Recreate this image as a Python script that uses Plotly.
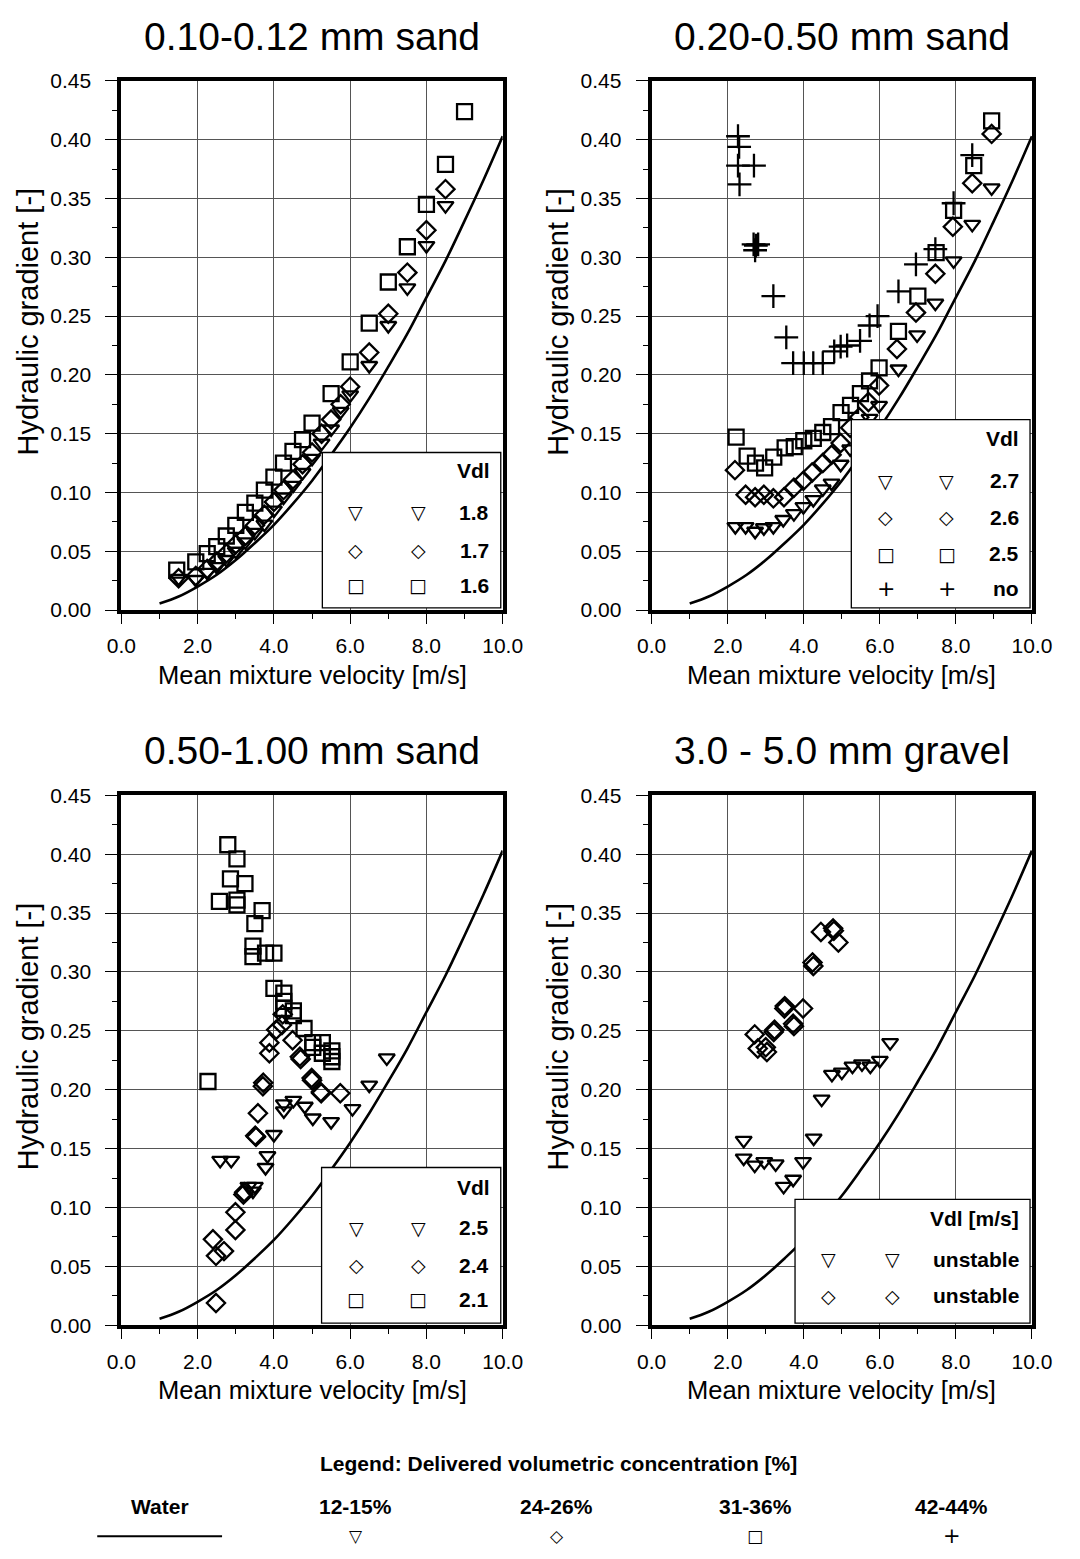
import plotly.graph_objects as go

# ---------------- data ----------------
water_v = [1.0, 1.5, 2.0, 2.5, 3.0, 3.5, 4.0, 4.5, 5.0, 5.5, 6.0, 6.5, 7.0, 7.5, 8.0, 8.5, 9.0, 9.5, 10.0]
water_i = [0.0055, 0.0115, 0.020, 0.030, 0.0425, 0.057, 0.0725, 0.0905, 0.110, 0.132, 0.155, 0.180,
           0.207, 0.235, 0.266, 0.297, 0.331, 0.366, 0.403]

# Panel 1: 0.10-0.12 mm sand
p1_tri_v = [1.50, 1.95, 2.25, 2.50, 2.75, 3.00, 3.25, 3.50, 3.75, 4.00, 4.25, 4.50, 4.75, 5.00, 5.25, 5.50,
            5.75, 6.00, 6.50, 7.00, 7.50, 8.00, 8.50]
p1_tri_i = [0.027, 0.026, 0.032, 0.037, 0.043, 0.050, 0.058, 0.066, 0.073, 0.085, 0.096, 0.106, 0.117, 0.129,
            0.142, 0.154, 0.169, 0.183, 0.208, 0.242, 0.274, 0.310, 0.344]
p1_dia_v = [1.50, 1.95, 2.25, 2.50, 2.75, 3.00, 3.25, 3.50, 3.75, 4.00, 4.25, 4.50, 4.75, 5.00, 5.25, 5.50,
            5.75, 6.00, 6.50, 7.00, 7.50, 8.00, 8.50]
p1_dia_i = [0.027, 0.029, 0.035, 0.041, 0.048, 0.056, 0.063, 0.072, 0.081, 0.092, 0.102, 0.111, 0.124, 0.134,
            0.150, 0.162, 0.175, 0.190, 0.219, 0.252, 0.287, 0.323, 0.358]
p1_sq_v = [1.45, 1.95, 2.25, 2.50, 2.75, 3.00, 3.25, 3.50, 3.75, 4.00, 4.25, 4.50, 4.75, 5.00, 5.50, 6.00,
           6.50, 7.00, 7.50, 8.00, 8.50, 9.00]
p1_sq_i = [0.034, 0.041, 0.048, 0.054, 0.063, 0.072, 0.083, 0.091, 0.102, 0.113, 0.125, 0.135, 0.145, 0.159,
           0.184, 0.211, 0.244, 0.279, 0.309, 0.345, 0.379, 0.424]

# Panel 2: 0.20-0.50 mm sand
p2_tri_v = [2.20, 2.47, 2.72, 2.95, 3.20, 3.46, 3.74, 3.99, 4.25, 4.50, 4.73, 4.97, 5.22, 5.48, 5.73, 5.98,
            6.49, 6.98, 7.46, 7.94, 8.43, 8.94]
p2_tri_i = [0.071, 0.071, 0.067, 0.070, 0.071, 0.077, 0.082, 0.088, 0.094, 0.103, 0.108, 0.124, 0.137, 0.150,
            0.163, 0.174, 0.205, 0.234, 0.261, 0.297, 0.328, 0.359]
p2_dia_v = [2.19, 2.47, 2.72, 2.95, 3.20, 3.48, 3.74, 3.99, 4.22, 4.50, 4.73, 4.97, 5.22, 5.46, 5.70, 5.98,
            6.45, 6.95, 7.46, 7.92, 8.43, 8.94]
p2_dia_i = [0.119, 0.098, 0.096, 0.098, 0.095, 0.096, 0.104, 0.110, 0.117, 0.125, 0.132, 0.142, 0.155, 0.164,
            0.177, 0.191, 0.222, 0.253, 0.286, 0.326, 0.363, 0.405]
p2_sq_v = [2.22, 2.51, 2.73, 2.97, 3.21, 3.51, 3.75, 4.00, 4.25, 4.50, 4.73, 4.98, 5.23, 5.49, 5.73, 5.98,
           6.49, 7.00, 7.48, 7.94, 8.47, 8.94]
p2_sq_i = [0.147, 0.131, 0.125, 0.121, 0.130, 0.138, 0.139, 0.144, 0.146, 0.151, 0.156, 0.168, 0.174, 0.184,
           0.195, 0.206, 0.237, 0.267, 0.304, 0.340, 0.378, 0.416]
p2_plus_v = [2.27, 2.30, 2.27, 2.69, 2.31, 2.68, 2.74, 2.80, 2.72, 3.20, 3.54, 3.72, 4.00, 4.25, 4.50, 4.80,
             4.97, 5.14, 5.48, 5.73, 5.94, 6.49, 6.95, 7.46, 7.94, 8.43]
p2_plus_i = [0.403, 0.394, 0.378, 0.378, 0.362, 0.311, 0.310, 0.311, 0.306, 0.267, 0.232, 0.210, 0.210, 0.210,
             0.210, 0.220, 0.224, 0.225, 0.229, 0.242, 0.250, 0.271, 0.294, 0.307, 0.346, 0.387]

# Panel 3: 0.50-1.00 mm sand
p3_tri_v = [2.59, 2.88, 3.33, 3.45, 3.50, 3.78, 3.83, 4.00, 4.26, 4.26, 4.51, 4.81, 5.02, 5.50, 6.06, 6.50, 6.96]
p3_tri_i = [0.140, 0.140, 0.118, 0.114, 0.118, 0.134, 0.144, 0.162, 0.182, 0.188, 0.191, 0.186, 0.176, 0.173,
            0.184, 0.204, 0.227]
p3_dia_v = [2.48, 2.40, 2.48, 2.69, 2.99, 2.99, 3.20, 3.22, 3.51, 3.53, 3.58, 3.71, 3.72, 3.88, 3.88, 4.06,
            4.21, 4.23, 4.49, 4.68, 4.70, 4.99, 5.00, 5.23, 5.24, 5.74]
p3_dia_i = [0.019, 0.073, 0.059, 0.063, 0.081, 0.096, 0.111, 0.113, 0.161, 0.160, 0.180, 0.203, 0.206, 0.231,
            0.240, 0.251, 0.255, 0.264, 0.242, 0.228, 0.226, 0.210, 0.208, 0.198, 0.197, 0.197]
p3_sq_v = [2.27, 2.57, 2.79, 2.86, 3.03, 3.03, 3.03, 3.24, 3.45, 3.45, 3.50, 3.69, 3.78, 4.00, 4.00, 4.26,
           4.26, 4.26, 4.51, 4.51, 4.79, 5.02, 5.02, 5.27, 5.27, 5.52, 5.52, 5.52]
p3_sq_i = [0.207, 0.360, 0.408, 0.379, 0.396, 0.361, 0.357, 0.375, 0.322, 0.313, 0.341, 0.352, 0.316, 0.316,
           0.286, 0.282, 0.275, 0.269, 0.267, 0.263, 0.252, 0.240, 0.236, 0.240, 0.231, 0.233, 0.228, 0.224]

# Panel 4: 3.0 - 5.0 mm gravel
p4_tri_v = [2.42, 2.42, 2.71, 2.96, 3.26, 3.47, 3.72, 3.98, 4.26, 4.47, 4.74, 5.00, 5.28, 5.53, 5.75, 6.00, 6.27]
p4_tri_i = [0.157, 0.142, 0.136, 0.139, 0.137, 0.118, 0.124, 0.139, 0.159, 0.192, 0.213, 0.215, 0.220, 0.222,
            0.220, 0.225, 0.240]
p4_dia_v = [2.71, 2.79, 3.00, 3.03, 3.21, 3.23, 3.49, 3.50, 3.72, 3.74, 3.98, 4.23, 4.25, 4.45, 4.77, 4.79, 4.91]
p4_dia_i = [0.247, 0.235, 0.236, 0.232, 0.249, 0.251, 0.269, 0.271, 0.256, 0.254, 0.269, 0.308, 0.305, 0.334,
            0.337, 0.335, 0.325]

panel_titles = ["0.10-0.12 mm sand", "0.20-0.50 mm sand", "0.50-1.00 mm sand", "3.0 - 5.0 mm gravel"]
legend_rows = [
    [("▽", "1.8"), ("◇", "1.7"), ("□", "1.6")],
    [("▽", "2.7"), ("◇", "2.6"), ("□", "2.5"), ("+", "no")],
    [("▽", "2.5"), ("◇", "2.4"), ("□", "2.1")],
    [("▽", "unstable"), ("◇", "unstable")],
]
legend_headers = ["Vdl", "Vdl", "Vdl", "Vdl [m/s]"]
conc_labels = ["Water", "12-15%", "24-26%", "31-36%", "42-44%"]
conc_symbols = ["", "▽", "◇", "□", "+"]

# ---------------- figure ----------------
W, H = 1080, 1559
FONT = "Liberation Sans, Arial, sans-serif"
fig = go.Figure()

xdom = [(110 / W, 504 / W), (658 / W, 1051 / W)]
ydom = [(1 - 607 / H, 1 - 70 / H), (1 - 1333 / H, 1 - 795 / H)]
panels = [(0, 0), (1, 0), (0, 1), (1, 1)]

LW = 2.3
sym_style = {
    "tri": dict(symbol="triangle-down-open", size=14, line=dict(width=LW, color="black"), color="black"),
    "dia": dict(symbol="diamond-open", size=14, line=dict(width=LW, color="black"), color="black"),
    "sq": dict(symbol="square-open", size=15, line=dict(width=LW, color="black"), color="black"),
    "plus": dict(symbol="cross-thin-open", size=17, line=dict(width=LW, color="black"), color="black"),
}

series = [
    [("tri", p1_tri_v, p1_tri_i), ("dia", p1_dia_v, p1_dia_i), ("sq", p1_sq_v, p1_sq_i)],
    [("tri", p2_tri_v, p2_tri_i), ("dia", p2_dia_v, p2_dia_i), ("sq", p2_sq_v, p2_sq_i),
     ("plus", p2_plus_v, p2_plus_i)],
    [("tri", p3_tri_v, p3_tri_i), ("dia", p3_dia_v, p3_dia_i), ("sq", p3_sq_v, p3_sq_i)],
    [("tri", p4_tri_v, p4_tri_i), ("dia", p4_dia_v, p4_dia_i)],
]

legend_box_left = [0.527, 0.525, 0.525, 0.377]
legend_box_top = [0.134, 0.162, 0.134, 0.107]
legend_header_y = [0.119, 0.146, 0.117, 0.091]
legend_row_y = [[0.083, 0.051, 0.021], [0.110, 0.079, 0.048, 0.018], [0.083, 0.051, 0.022], [0.056, 0.025]]
legend_sym_x = [(0.615, 0.778), (0.615, 0.776), (0.616, 0.778), (0.466, 0.632)]

annotations = []
shapes = []
for k, (cx, ry) in enumerate(panels):
    n = "" if k == 0 else str(k + 1)
    xa, ya = "x" + n, "y" + n
    fig.add_trace(go.Scatter(x=water_v, y=water_i, mode="lines", line=dict(color="black", width=2.6, shape="spline"),
                             xaxis=xa, yaxis=ya, showlegend=False))
    for key, vv, ii in series[k]:
        fig.add_trace(go.Scatter(x=vv, y=ii, mode="markers", marker=sym_style[key], xaxis=xa, yaxis=ya,
                                 showlegend=False))
    axcommon = dict(showline=True, mirror=True, linewidth=4, linecolor="black", showgrid=True,
                    gridcolor="#555555", gridwidth=1, ticks="outside", tickwidth=1,
                    tickcolor="black", zeroline=False, tickfont=dict(family=FONT, size=21, color="black"))
    fig.update_layout(**{
        "xaxis" + n: dict(axcommon, domain=xdom[cx], range=[0, 10], dtick=2, tick0=0, tickformat=".1f",
                          ticklen=10, ticklabelstandoff=4,
                          anchor=ya, minor=dict(dtick=1, ticks="outside", ticklen=5, showgrid=False,
                                                tickcolor="black")),
        "yaxis" + n: dict(axcommon, domain=ydom[ry], range=[0, 0.45], dtick=0.05, tick0=0, tickformat=".2f",
                          ticklen=12, ticklabelstandoff=10,
                          anchor=xa, minor=dict(dtick=0.025, ticks="outside", ticklen=5, showgrid=False,
                                                tickcolor="black")),
    })
    x0, x1 = xdom[cx]
    y0, y1 = ydom[ry]
    xc = (x0 + x1) / 2
    # panel title
    annotations.append(dict(text=panel_titles[k], x=xc, y=y1 + 45 / H, xref="paper", yref="paper",
                            showarrow=False, font=dict(family=FONT, size=39, color="black"),
                            xanchor="center", yanchor="middle"))
    # axis titles
    annotations.append(dict(text="Mean mixture velocity [m/s]", x=xc, y=y0 - 66 / H, xref="paper",
                            yref="paper", showarrow=False, font=dict(family=FONT, size=25.5, color="black"),
                            xanchor="center", yanchor="middle"))
    annotations.append(dict(text="Hydraulic gradient [-]", x=x0 - 97 / W, y=(y0 + y1) / 2 + 24 / H, xref="paper",
                            yref="paper", showarrow=False, textangle=-90,
                            font=dict(family=FONT, size=29, color="black"), xanchor="center", yanchor="middle"))
    # in-plot legend box
    shapes.append(dict(type="rect", xref=xa + " domain", yref=ya + " domain", x0=legend_box_left[k], x1=0.995,
                       y0=0.004, y1=legend_box_top[k] / 0.45, fillcolor="white",
                       line=dict(color="black", width=1.3), layer="above"))
    annotations.append(dict(text="<b>" + legend_headers[k] + "</b>", x=0.972, y=legend_header_y[k] / 0.45,
                            xref=xa + " domain", yref=ya + " domain", showarrow=False, xanchor="right",
                            yanchor="middle", font=dict(family=FONT, size=21, color="black")))
    for r, (sym, lab) in enumerate(legend_rows[k]):
        yy = legend_row_y[k][r] / 0.45
        for sx in legend_sym_x[k]:
            annotations.append(dict(text=sym, x=sx, y=yy, xref=xa + " domain", yref=ya + " domain",
                                    showarrow=False, xanchor="center", yanchor="middle",
                                    font=dict(family="DejaVu Sans", size=19 if sym != "+" else 22,
                                              color="black")))
        annotations.append(dict(text="<b>" + lab + "</b>", x=0.970, y=yy, xref=xa + " domain",
                                yref=ya + " domain", showarrow=False, xanchor="right", yanchor="middle",
                                font=dict(family=FONT, size=21, color="black")))

# bottom legend
annotations.append(dict(text="<b>Legend: Delivered volumetric concentration [%]</b>", x=562 / W, y=1 - 1473 / H,
                        xref="paper", yref="paper", showarrow=False, xanchor="center", yanchor="middle",
                        font=dict(family=FONT, size=21, color="black")))
conc_x = [150, 352, 560, 765, 968]
for j, lab in enumerate(conc_labels):
    annotations.append(dict(text="<b>" + lab + "</b>", x=conc_x[j] / W, y=1 - 1517 / H, xref="paper",
                            yref="paper", showarrow=False, xanchor="center", yanchor="middle",
                            font=dict(family=FONT, size=21, color="black")))
    if conc_symbols[j]:
        annotations.append(dict(text=conc_symbols[j], x=conc_x[j] / W, y=1 - 1547 / H, xref="paper",
                                yref="paper", showarrow=False, xanchor="center", yanchor="middle",
                                font=dict(family="DejaVu Sans", size=17 if conc_symbols[j] != "+" else 21,
                                          color="black")))
shapes.append(dict(type="line", xref="paper", yref="paper", x0=85 / W, x1=214 / W, y0=1 - 1547 / H,
                   y1=1 - 1547 / H, line=dict(color="black", width=2)))

fig.update_layout(width=W, height=H, margin=dict(l=0, r=0, t=0, b=0), paper_bgcolor="white",
                  plot_bgcolor="white", annotations=annotations, shapes=shapes,
                  font=dict(family=FONT, color="black"))

fig.write_html("out.html", config={"displayModeBar": False},
               post_script="document.body.style.margin='0';document.body.style.overflow='hidden';")
